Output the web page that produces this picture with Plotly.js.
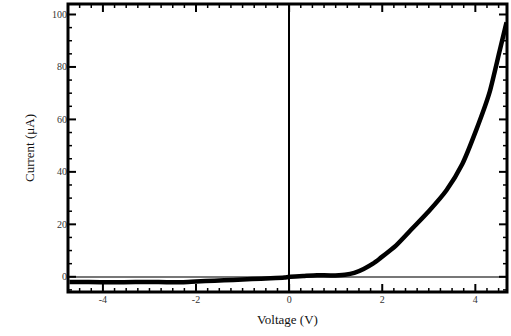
<!DOCTYPE html>
<html><head><meta charset="utf-8">
<script src="https://cdn.plot.ly/plotly-3.0.1.min.js"></script>
<style>html,body{margin:0;padding:0;background:#fff;}</style>
</head><body>
<div id="chart" style="width:511px;height:336px;"></div>
<script>
var voltage = [-4.72, -4.3, -3.8, -3.3, -2.8, -2.3, -2.0, -1.6, -1.2, -0.8, -0.4, -0.1, 0.0, 0.3, 0.6, 0.9, 1.2, 1.4, 1.6, 1.8, 1.95, 2.3, 2.65, 3.0, 3.38, 3.72, 4.02, 4.3, 4.52, 4.67];
var current = [-2.0, -2.0, -2.1, -2.0, -2.0, -2.1, -1.8, -1.5, -1.2, -0.8, -0.6, -0.3, 0.0, 0.3, 0.6, 0.5, 0.8, 1.5, 3.0, 5.0, 7.0, 12.0, 18.5, 25.0, 33.0, 43.0, 56.0, 70.0, 86.0, 97.0];
var xTicks = [-4, -2, 0, 2, 4];
var xTickText = ['-4', '-2', '0', '2', '4'];
var yTicks = [0, 20, 40, 60, 80, 100];
var yTickText = ['0', '20', '40', '60', '80', '100'];
var xRange = [-4.75, 4.68];
var yRange = [-5.8, 104];

var trace = {x: voltage, y: current, type: 'scatter', mode: 'lines',
  line: {color: '#000', width: 4.5, shape: 'spline', smoothing: 0.6}, hoverinfo: 'skip'};
var ff = 'Liberation Serif, serif';

// tick marks drawn as shapes anchored to the axes' own data scales
var plotW = 511 - 68 - 4, plotH = 336 - 4 - 44;
var shapes = [{type: 'rect', xref: 'paper', yref: 'paper', x0: 0, x1: 1, y0: 0, y1: 1, line: {color: '#000', width: 3}}];
function xTick(v, len, w) {
  shapes.push({type: 'line', xref: 'x', yref: 'paper', x0: v, x1: v, y0: 0, y1: len / plotH, line: {color: '#000', width: w}});
  shapes.push({type: 'line', xref: 'x', yref: 'paper', x0: v, x1: v, y0: 1, y1: 1 - len / plotH, line: {color: '#000', width: w}});
}
function yTick(v, len, w) {
  shapes.push({type: 'line', xref: 'paper', yref: 'y', y0: v, y1: v, x0: 0, x1: len / plotW, line: {color: '#000', width: w}});
  shapes.push({type: 'line', xref: 'paper', yref: 'y', y0: v, y1: v, x0: 1, x1: 1 - len / plotW, line: {color: '#000', width: w}});
}
for (var i = -18; i <= 18; i++) {
  var v = i * 0.25;
  if (v > xRange[0] && v < xRange[1]) xTick(v, i % 8 === 0 ? 8 : 4, i % 8 === 0 ? 2 : 1.5);
}
for (var j = -1; j <= 20; j++) {
  var u = j * 5;
  if (u > yRange[0] && u < yRange[1]) yTick(u, j % 4 === 0 ? 8 : 4, j % 4 === 0 ? 2 : 1.5);
}

var layout = {
  width: 511, height: 336, margin: {l: 68, r: 4, t: 4, b: 44}, showlegend: false,
  paper_bgcolor: '#fff', plot_bgcolor: '#fff',
  xaxis: {range: xRange, tickvals: xTicks, ticktext: xTickText, ticks: '',
    showline: false, showgrid: false, zeroline: true, zerolinecolor: '#000', zerolinewidth: 2,
    tickfont: {family: ff, size: 10, color: '#333'},
    title: {text: 'Voltage (V)', font: {family: ff, size: 13, color: '#111'}, standoff: 10}},
  yaxis: {range: yRange, tickvals: yTicks, ticktext: yTickText, ticks: '',
    showline: false, showgrid: false, zeroline: true, zerolinecolor: '#777', zerolinewidth: 2,
    tickfont: {family: ff, size: 10, color: '#333'},
    title: {text: 'Current (μA)', font: {family: ff, size: 13, color: '#111'}, standoff: 14}},
  shapes: shapes
};
Plotly.newPlot('chart', [trace], layout, {staticPlot: true});
</script>
</body></html>
